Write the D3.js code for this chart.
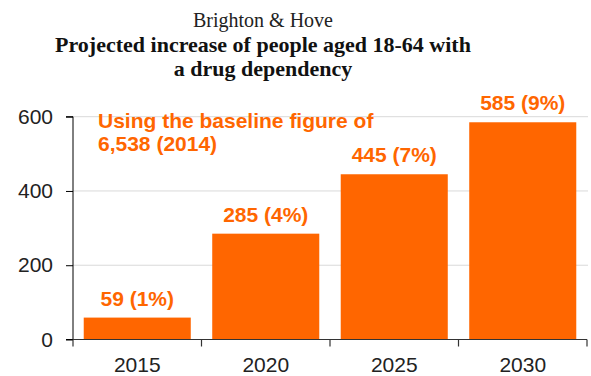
<!DOCTYPE html>
<html><head><meta charset="utf-8">
<script src="https://cdn.jsdelivr.net/npm/d3@7"></script>
<style>body{margin:0;background:#fff}svg{display:block}</style>
</head><body>
<script>
const categories = ["2015", "2020", "2025", "2030"];
const values = [59, 285, 445, 585];
const valueLabels = ["59 (1%)", "285 (4%)", "445 (7%)", "585 (9%)"];
const yTicks = [0, 200, 400, 600];
const subtitle = "Brighton & Hove";
const titleLines = ["Projected increase of people aged 18-64 with", "a drug dependency"];
const noteLines = ["Using the baseline figure of", "6,538 (2014)"];

const W = 591, H = 376;
const orange = "#ff6600";
const svg = d3.select("body").append("svg").attr("width", W).attr("height", H);

const m = {left: 73, right: 4, top: 116.7, bottom: 36.5};
const x = d3.scaleBand().domain(categories).range([m.left, W - m.right]).paddingInner(0.167).paddingOuter(0.0835);
const y = d3.scaleLinear().domain([0, 600]).range([H - m.bottom, m.top]);

// gridlines
svg.append("g").selectAll("line").data(yTicks.filter(d => d > 0)).join("line")
  .attr("x1", m.left).attr("x2", W - 3)
  .attr("y1", d => y(d)).attr("y2", d => y(d))
  .attr("stroke", "#d9d9d9").attr("stroke-width", 1);

// bars
svg.append("g").selectAll("rect").data(values).join("rect")
  .attr("x", (d, i) => x(categories[i]))
  .attr("width", x.bandwidth())
  .attr("y", d => y(d))
  .attr("height", d => y(0) - y(d))
  .attr("fill", orange);

// value labels
svg.append("g").selectAll("text").data(values).join("text")
  .attr("x", (d, i) => x(categories[i]) + x.bandwidth() / 2)
  .attr("y", d => y(d) - 12)
  .attr("text-anchor", "middle")
  .attr("font-family", "Liberation Sans, Arial, sans-serif")
  .attr("font-weight", "bold").attr("font-size", 21)
  .attr("fill", orange)
  .text((d, i) => valueLabels[i]);

// y axis
const yAxis = svg.append("g").attr("transform", `translate(${m.left},0)`)
  .call(d3.axisLeft(y).tickValues(yTicks).tickSize(7).tickPadding(13).tickFormat(d3.format("d")));
yAxis.select(".domain").attr("stroke", "#000").attr("d", `M-7,${y(600)}H0V${y(0)}H-7`);
yAxis.selectAll(".tick line").attr("stroke", "#000");
yAxis.selectAll(".tick text").attr("font-family", "Liberation Sans, Arial, sans-serif")
  .attr("font-size", 21).attr("fill", "#222");

// x axis with boundary ticks
const xg = svg.append("g");
xg.append("line").attr("x1", m.left).attr("x2", W - m.right).attr("y1", y(0)).attr("y2", y(0))
  .attr("stroke", "#333").attr("stroke-width", 1.2);
const bounds = categories.map(c => x(c) - x.step() * x.paddingInner() / 2).concat([x(categories[3]) + x.bandwidth() + x.step() * x.paddingInner() / 2]);
xg.selectAll("line.b").data(bounds).join("line").attr("class", "b")
  .attr("x1", d => d).attr("x2", d => d).attr("y1", y(0)).attr("y2", y(0) + 7)
  .attr("stroke", "#333").attr("stroke-width", 1.2);
xg.selectAll("text").data(categories).join("text")
  .attr("x", d => x(d) + x.bandwidth() / 2).attr("y", y(0) + 32)
  .attr("text-anchor", "middle")
  .attr("font-family", "Liberation Sans, Arial, sans-serif")
  .attr("font-size", 21).attr("fill", "#222").text(d => d);

// titles
svg.append("text").attr("x", 263).attr("y", 27).attr("text-anchor", "middle")
  .attr("font-family", "Liberation Serif, serif").attr("font-size", 20).attr("fill", "#222")
  .text(subtitle);
svg.append("g").selectAll("text").data(titleLines).join("text")
  .attr("x", 263).attr("y", (d, i) => 52 + i * 24).attr("text-anchor", "middle")
  .attr("font-family", "Liberation Serif, serif").attr("font-weight", "bold")
  .attr("font-size", 22).attr("fill", "#111")
  .text(d => d);

// note
svg.append("g").selectAll("text").data(noteLines).join("text")
  .attr("x", 98).attr("y", (d, i) => 128.3 + i * 22.4)
  .attr("font-family", "Liberation Sans, Arial, sans-serif")
  .attr("font-weight", "bold").attr("font-size", 21).attr("fill", orange)
  .text(d => d);
</script>
</body></html>
